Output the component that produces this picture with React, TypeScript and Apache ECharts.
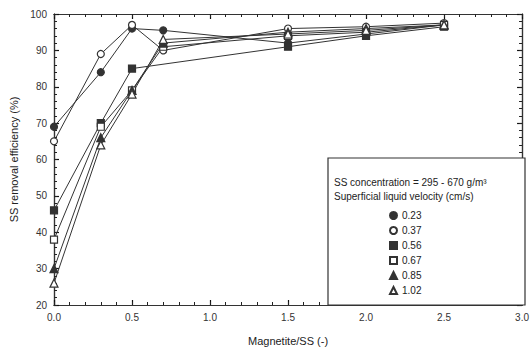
import React, { useEffect, useRef } from "react";
import * as echarts from "echarts";

const seriesNames = ["0.23", "0.37", "0.56", "0.67", "0.85", "1.02"];
const xs = [0, 0.3, 0.5, 0.7, 1.5, 2.0, 2.5];
const v023 = [69, 84, 96, 95.5, 92, 94.5, 97];
const v037 = [65, 89, 97, 90, 96, 96.5, 97.5];
const v056 = [46, 70, 85, null, 91, 94, 96.5];
const v067 = [38, 69, 79, 91, 94, 95, 97];
const v085 = [30, 66, 79, 92, 95, 96, 97];
const v102 = [26, 64, 78, 93, 94.5, 95.5, 97];

const symbols = ["circle", "circle", "rect", "rect", "triangle", "triangle"];
const filled = [true, false, true, false, true, false];
const values = [v023, v037, v056, v067, v085, v102];

const FONT = "Liberation Sans, Arial, sans-serif";

function majorAxis(min: number, max: number, interval: number, position: string, labels: boolean, fmt: (v: number) => string) {
  return {
    type: "value",
    min,
    max,
    interval,
    position,
    axisLine: { show: true, onZero: false, lineStyle: { color: "#333", width: 1.2 } },
    axisTick: { show: true, inside: true, length: 5, lineStyle: { color: "#111", width: 1.2 } },
    splitLine: { show: false },
    axisLabel: labels
      ? { color: "#333", fontFamily: FONT, fontSize: 10, margin: 7, formatter: fmt }
      : { show: false },
  };
}

function minorAxis(min: number, max: number, interval: number, position: string) {
  return {
    type: "value",
    min,
    max,
    interval,
    position,
    axisLine: { show: true, onZero: false, lineStyle: { color: "#333", width: 1.2 } },
    axisTick: { show: true, inside: true, length: 3, lineStyle: { color: "#222", width: 1 } },
    splitLine: { show: false },
    axisLabel: { show: false },
  };
}

export default function App() {
  const ref = useRef<HTMLDivElement>(null);
  useEffect(() => {
    document.body.style.margin = "0";
    const chart = echarts.init(ref.current!, null, { renderer: "svg" });
    const series = seriesNames.map((name, i) => ({
      name,
      type: "line",
      xAxisIndex: 0,
      yAxisIndex: 0,
      data: xs.map((x, j) => (values[i][j] == null ? null : [x, values[i][j]])).filter((d) => d !== null),
      symbol: symbols[i],
      symbolSize: symbols[i] === "triangle" ? 8 : 7,
      lineStyle: { color: "#333", width: 1 },
      itemStyle: {
        color: filled[i] ? "#333" : "#fff",
        borderColor: "#333",
        borderWidth: 1.2,
      },
      z: 3,
    }));
    const xFmt = (v: number) => v.toFixed(1);
    const yFmt = (v: number) => String(v);
    chart.setOption({
      animation: false,
      backgroundColor: "#fff",
      grid: { left: 54, right: 7, top: 14, bottom: 49 },
      xAxis: [
        {
          ...majorAxis(0, 3, 0.5, "bottom", true, xFmt),
          name: "Magnetite/SS (-)",
          nameLocation: "middle",
          nameGap: 30,
          nameTextStyle: { color: "#222", fontFamily: FONT, fontSize: 11 },
        },
        majorAxis(0, 3, 0.5, "top", false, xFmt),
        minorAxis(0, 3, 0.1, "bottom"),
        minorAxis(0, 3, 0.1, "top"),
      ],
      yAxis: [
        {
          ...majorAxis(20, 100, 10, "left", true, yFmt),
          name: "SS removal efficiency (%)",
          nameLocation: "middle",
          nameGap: 25,
          nameTextStyle: { color: "#222", fontFamily: FONT, fontSize: 11 },
        },
        majorAxis(20, 100, 10, "right", false, yFmt),
        minorAxis(20, 100, 2, "left"),
        minorAxis(20, 100, 2, "right"),
      ],
      legend: {
        orient: "vertical",
        left: 389,
        top: 210,
        z: 20,
        itemWidth: 7,
        itemHeight: 7,
        itemGap: 4,
        padding: 0,
        textStyle: { color: "#222", fontFamily: FONT, fontSize: 10, lineHeight: 11 },
        data: seriesNames.map((n, i) => ({ name: n, icon: symbols[i] })),
      },
      graphic: [
        {
          type: "rect",
          shape: { x: 328, y: 158, width: 197, height: 147 },
          style: { fill: "#fff", stroke: "#333", lineWidth: 1.2 },
          z: 5,
        },
        {
          type: "text",
          x: 334,
          y: 177,
          style: { text: "SS concentration = 295 - 670 g/m³", fill: "#222", font: `10px ${FONT}` },
          z: 6,
        },
        {
          type: "text",
          x: 334,
          y: 191,
          style: { text: "Superficial liquid velocity (cm/s)", fill: "#222", font: `10px ${FONT}` },
          z: 6,
        },
      ],
      series,
    });
    return () => chart.dispose();
  }, []);
  return <div ref={ref} style={{ width: 532, height: 354 }} />;
}
